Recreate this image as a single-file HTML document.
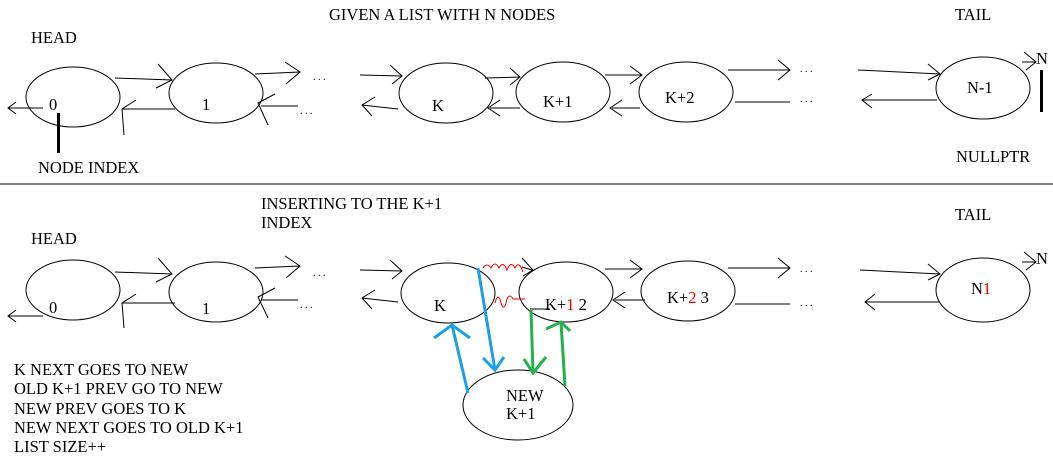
<!DOCTYPE html>
<html><head><style>
html,body{margin:0;padding:0;background:#fff;}
svg{display:block;}
text{font-family:"Liberation Serif",serif;font-size:16.5px;fill:#000;}
</style></head><body>
<svg width="1053" height="472" viewBox="0 0 1053 472" xmlns="http://www.w3.org/2000/svg">
<g fill="none" stroke="#000" stroke-width="1">
<ellipse cx="73" cy="97" rx="47" ry="30"/>
<ellipse cx="216" cy="93" rx="47" ry="30"/>
<ellipse cx="446" cy="93" rx="47" ry="30"/>
<ellipse cx="563" cy="92" rx="47" ry="30"/>
<ellipse cx="686" cy="92" rx="47" ry="30"/>
<ellipse cx="983" cy="88" rx="47" ry="31"/>
<path d="M115 78 L172 80 M158 64 L172 80 L156 88"/>
<path d="M175 109 L122 109 M136 100 L122 109 L124 135"/>
<path d="M255 74 L300 72 M285 62 L300 72 L286 84"/>
<path d="M398 109 L362 105 M375 97 L362 105 L372 116"/>
<path d="M360 75 L402 76 M390 65 L402 76 L392 84"/>
<path d="M261 106 L298 106 M275 94 L258 103 L268 125"/>
<path d="M485 78 L520 77 M510 68 L520 77 L510 85"/>
<path d="M520 108 L490 108 M500 100 L488 108 L500 116"/>
<path d="M605 75 L642 75 M630 66 L642 75 L630 84"/>
<path d="M640 108 L612 108 M622 100 L610 108 L622 116"/>
<path d="M728 70 L790 70 M778 60 L790 70 L778 80"/>
<path d="M735 102 L790 102"/>
<path d="M858 70 L940 74 M928 64 L940 74 L928 80"/>
<path d="M937 100 L862 100 M872 94 L862 100 L872 108"/>
<path d="M1022 62 L1036 62 M1024 52 L1036 62 L1026 70"/>
<path d="M43 108 L8 108 M16 102 L8 108 L16 114"/>
</g>
<rect x="57" y="113" width="3" height="40" fill="#000"/>
<rect x="1040" y="70" width="3" height="42" fill="#000"/>
<line x1="0" y1="184" x2="1053" y2="184" stroke="#000" stroke-width="1"/>
<text x="329" y="20">GIVEN A LIST WITH N NODES</text>
<text x="31" y="43">HEAD</text>
<text x="955" y="20">TAIL</text>
<text x="49" y="110">0</text>
<text x="202" y="110">1</text>
<text x="432" y="111">K</text>
<text x="543" y="107">K+1</text>
<text x="665" y="103">K+2</text>
<text x="967" y="93">N-1</text>
<text x="1036" y="64">N</text>
<text x="38" y="173">NODE INDEX</text>
<text x="956" y="162">NULLPTR</text>
<text x="300" y="114" style="font-size:10px">.  .  .</text>
<text x="313" y="80" style="font-size:10px">.  .  .</text>
<text x="800" y="72" style="font-size:10px">.  .  .</text>
<text x="800" y="102" style="font-size:10px">.  .  .</text>

<g fill="none" stroke="#000" stroke-width="1">
<ellipse cx="73" cy="290" rx="47" ry="30"/>
<ellipse cx="216" cy="292" rx="47" ry="30"/>
<ellipse cx="448" cy="293" rx="47" ry="30"/>
<ellipse cx="566" cy="292" rx="47" ry="30"/>
<ellipse cx="688" cy="291" rx="47" ry="30"/>
<ellipse cx="983" cy="290" rx="47" ry="32"/>
<ellipse cx="518" cy="405" rx="55" ry="35"/>
<path d="M115 272 L172 274 M158 258 L172 274 L156 282"/>
<path d="M175 303 L122 303 M136 294 L122 303 L124 328"/>
<path d="M255 268 L300 266 M285 256 L300 266 L286 278"/>
<path d="M398 302 L362 298 M375 290 L362 298 L372 309"/>
<path d="M360 270 L402 271 M390 260 L402 271 L392 279"/>
<path d="M261 300 L298 300 M275 288 L258 297 L268 318"/>
<path d="M605 269 L642 269 M630 260 L642 269 L630 278"/>
<path d="M645 300 L615 300 M625 292 L613 300 L625 308"/>
<path d="M728 268 L790 268 M778 258 L790 268 L778 278"/>
<path d="M735 304 L790 304"/>
<path d="M860 270 L940 274 M928 264 L940 274 L928 280"/>
<path d="M940 302 L865 302 M875 294 L865 302 L875 310"/>
<path d="M1022 262 L1036 262 M1024 252 L1036 262 L1026 270"/>
<path d="M43 316 L8 316 M16 310 L8 316 L16 322"/>
<path d="M522 267 L532 270 M522 258 L533 270 L523 276"/>
</g>
<g fill="none" stroke="#e00" stroke-width="1">
<path d="M483 268 q4 -6 8 0 q4 -8 8 0 q4 -8 8 2 q4 -10 8 -2 q4 -8 8 4"/>
<path d="M495 303 q3 -12 6 0 q3 10 6 -4 q3 -6 6 0 l12 0"/>
</g>
<line x1="530" y1="309" x2="550" y2="309" stroke="#000"/>
<g fill="none" stroke="#1ba1e2" stroke-width="3">
<path d="M478 268 L495 370 M483 358 L495 370 L504 357"/>
<path d="M468 393 L452 325 M434 338 L452 325 L470 338"/>
</g>
<g fill="none" stroke="#22b14c" stroke-width="3">
<path d="M531 310 L533 373 M524 359 L533 373 L546 357"/>
<path d="M565 386 L561 322 M546 329 L561 322 L570 331"/>
</g>
<text x="261" y="209">INSERTING TO THE K+1</text>
<text x="261" y="228">INDEX</text>
<text x="31" y="244">HEAD</text>
<text x="955" y="220">TAIL</text>
<text x="49" y="313">0</text>
<text x="202" y="314">1</text>
<text x="434" y="311">K</text>
<text x="545" y="310">K+<tspan fill="#e00">1</tspan> 2</text>
<text x="667" y="303">K+<tspan fill="#e00">2</tspan> 3</text>
<text x="971" y="294">N<tspan fill="#e00">1</tspan></text>
<text x="1036" y="264">N</text>
<text x="506" y="401">NEW</text>
<text x="506" y="419">K+1</text>
<text x="300" y="308" style="font-size:10px">.  .  .</text>
<text x="313" y="276" style="font-size:10px">.  .  .</text>
<text x="800" y="272" style="font-size:10px">. . .</text>
<text x="800" y="306" style="font-size:10px">. . .</text>
<text x="14" y="375">K NEXT GOES TO NEW</text>
<text x="14" y="394">OLD K+1 PREV GO TO NEW</text>
<text x="14" y="414">NEW PREV GOES TO K</text>
<text x="14" y="433">NEW NEXT GOES TO OLD K+1</text>
<text x="14" y="452">LIST SIZE++</text>
</svg>
</body></html>
